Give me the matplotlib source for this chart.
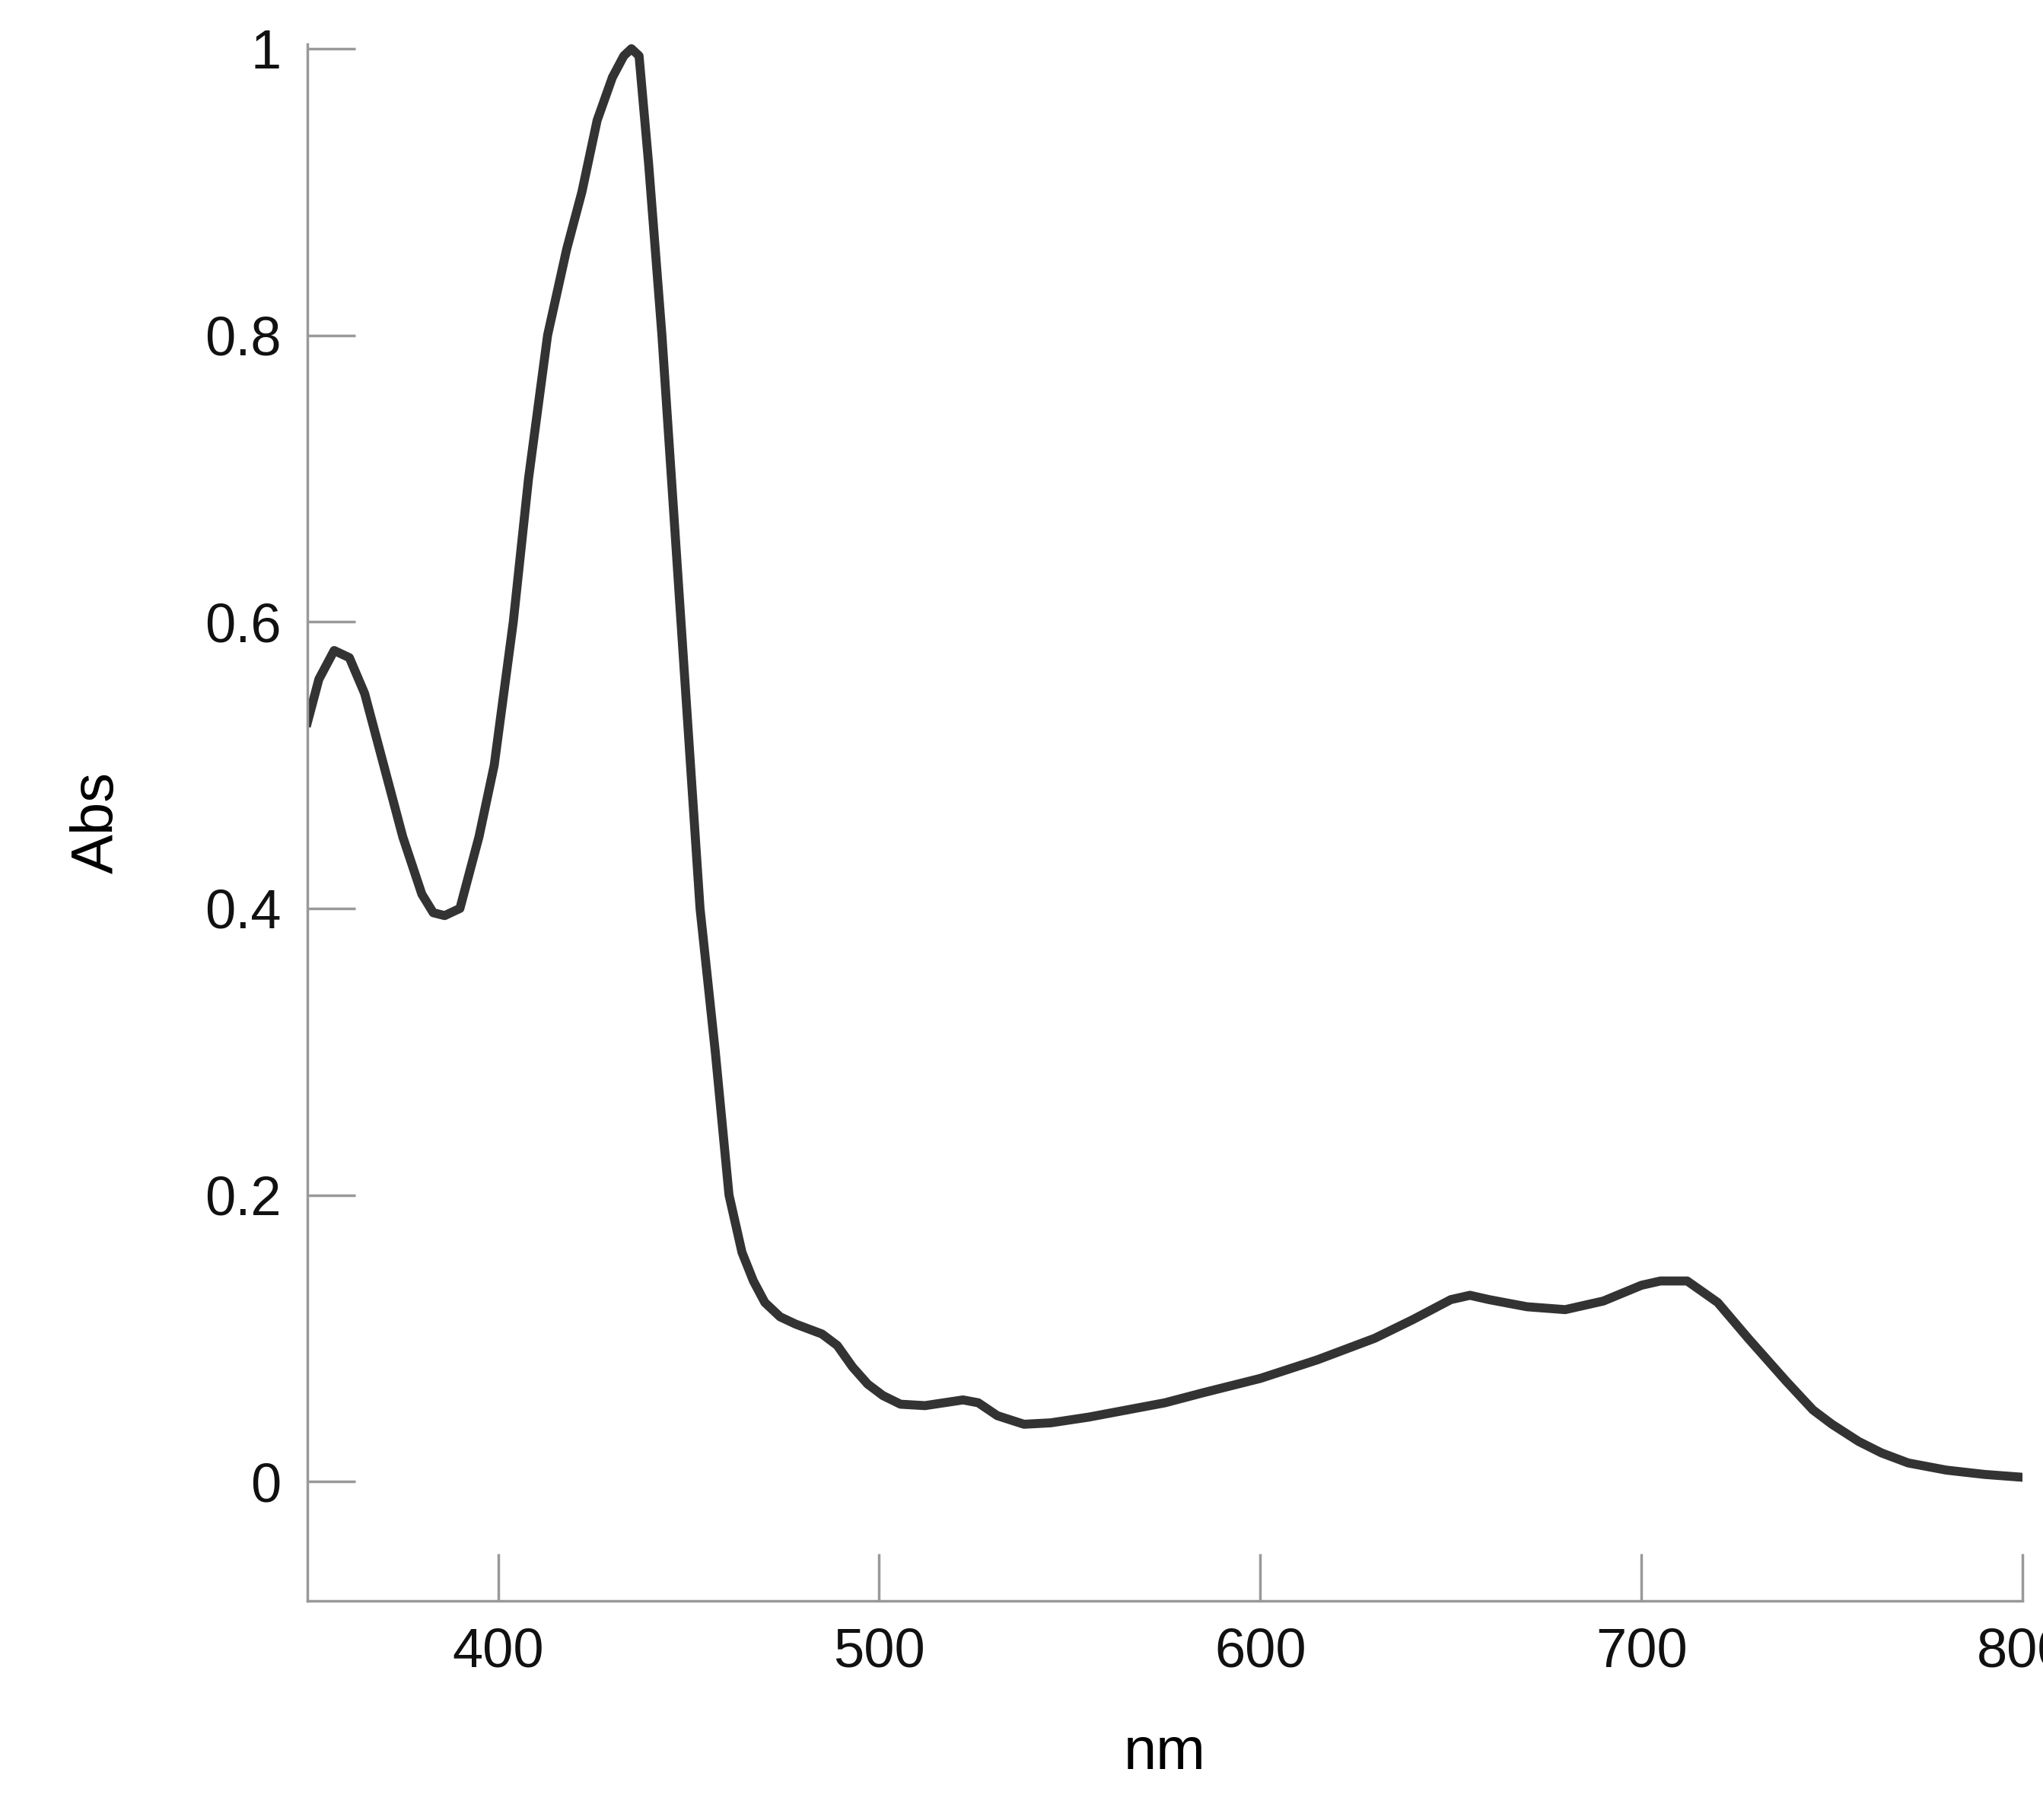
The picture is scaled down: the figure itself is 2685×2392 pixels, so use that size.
import matplotlib
matplotlib.use("Agg")
import matplotlib.pyplot as plt
import numpy as np

plt.rcParams['font.family'] = ['Liberation Sans', 'DejaVu Sans']

wavelength = [350, 353, 357, 361, 365, 370, 375, 380, 383, 386, 390, 395, 399, 404, 408, 413, 418, 422, 426, 430, 433, 435, 437, 439.5, 443, 448, 453, 457, 460.6, 464, 467, 470, 474, 478, 481, 485, 489, 493, 497, 501, 505.6, 512, 517, 522, 526, 531, 538, 545, 555, 565, 575, 585, 600, 615, 630, 640, 650, 655, 660, 670, 680, 690, 700, 705, 712, 720, 728, 738, 745, 750, 757, 763, 770, 780, 790, 800]
absorb = [0.53, 0.56, 0.58, 0.575, 0.55, 0.5, 0.45, 0.41, 0.397, 0.395, 0.4, 0.45, 0.5, 0.6, 0.7, 0.8, 0.86, 0.9, 0.95, 0.98, 0.995, 1.0, 0.995, 0.92, 0.8, 0.6, 0.4, 0.3, 0.2, 0.16, 0.14, 0.125, 0.115, 0.11, 0.107, 0.103, 0.095, 0.08, 0.068, 0.06, 0.054, 0.053, 0.055, 0.057, 0.055, 0.046, 0.04, 0.041, 0.045, 0.05, 0.055, 0.062, 0.072, 0.085, 0.1, 0.113, 0.127, 0.13, 0.127, 0.122, 0.12, 0.126, 0.137, 0.14, 0.14, 0.125, 0.1, 0.07, 0.05, 0.04, 0.028, 0.02, 0.013, 0.008, 0.005, 0.003]

fig = plt.figure(figsize=(26.85, 23.92), dpi=100)
ax = fig.add_axes([0.1505, 0.1206, 0.8395, 0.855])
ax.plot(wavelength, absorb, color="#333333", lw=8.5, solid_joinstyle="round")
ax.set_xlim(350, 800)
ax.set_ylim(-0.083, 1.003)
ax.set_xticks([400, 500, 600, 700, 800])
ax.set_yticks([0, 0.2, 0.4, 0.6, 0.8, 1.0])
ax.set_yticklabels(["0", "0.2", "0.4", "0.6", "0.8", "1"])
for s in ["top", "right"]:
    ax.spines[s].set_visible(False)
for s in ["left", "bottom"]:
    ax.spines[s].set_color("#999999")
    ax.spines[s].set_linewidth(2.5)
ax.tick_params(direction="in", length=45, width=2.5, color="#999999", labelsize=52, labelcolor="#111111", pad=25)
ax.set_xlabel("nm", fontsize=56, labelpad=45)
ax.set_ylabel("Abs", fontsize=56, labelpad=75)
fig.savefig("out.png", dpi=100)
